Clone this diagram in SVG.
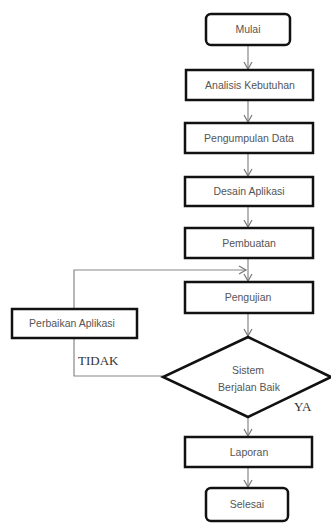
<svg xmlns="http://www.w3.org/2000/svg" width="331" height="523" viewBox="0 0 331 523">
<style>
.box{fill:#fff;stroke:#111;stroke-width:2.5}
.t{font-family:"Liberation Sans",Arial,sans-serif;font-size:10.5px;fill:#555;text-anchor:middle}
.s{font-family:"Liberation Serif","Times New Roman",serif;font-size:13px;fill:#333}
.c{fill:none;stroke:#888;stroke-width:1.2}
</style>
<defs>
<marker id="a" markerWidth="10" markerHeight="10" refX="8" refY="5" orient="auto" markerUnits="userSpaceOnUse">
<path d="M1,1 L8,5 L1,9" fill="none" stroke="#777" stroke-width="1.2"/>
</marker>
</defs>
<rect width="331" height="523" fill="#fff"/>
<g id="connectors">
<line class="c" x1="248" y1="45" x2="248" y2="69" marker-end="url(#a)"/>
<line class="c" x1="248" y1="100" x2="248" y2="122" marker-end="url(#a)"/>
<line class="c" x1="248" y1="153" x2="248" y2="176" marker-end="url(#a)"/>
<line class="c" x1="248" y1="206" x2="248" y2="227" marker-end="url(#a)"/>
<line class="c" x1="248" y1="258" x2="248" y2="281" marker-end="url(#a)"/>
<line class="c" x1="248" y1="313" x2="248" y2="336" marker-end="url(#a)"/>
<line class="c" x1="248" y1="417" x2="248" y2="436" marker-end="url(#a)"/>
<line class="c" x1="248" y1="467" x2="248" y2="487" marker-end="url(#a)"/>
<polyline class="c" points="163,376 74,376 74,339"/>
<polyline class="c" points="74,309 74,270 246,270" marker-end="url(#a)"/>
</g>
<g id="mulai"><rect class="box" x="206" y="14" width="84" height="31" rx="5"/><text class="t" x="248" y="33">Mulai</text></g>
<g id="analisis"><rect class="box" x="186" y="70" width="127" height="30"/><text class="t" x="250" y="89">Analisis Kebutuhan</text></g>
<g id="pengumpulan"><rect class="box" x="185" y="123" width="128" height="30"/><text class="t" x="249" y="142">Pengumpulan Data</text></g>
<g id="desain"><rect class="box" x="185" y="177" width="128" height="29"/><text class="t" x="249" y="195">Desain Aplikasi</text></g>
<g id="pembuatan"><rect class="box" x="185" y="228" width="128" height="30"/><text class="t" x="249" y="247">Pembuatan</text></g>
<g id="pengujian"><rect class="box" x="185" y="282" width="128" height="31"/><text class="t" x="248" y="301">Pengujian</text></g>
<g id="perbaikan"><rect class="box" x="12" y="309" width="125" height="29"/><text class="t" x="72" y="327">Perbaikan Aplikasi</text></g>
<g id="keputusan"><polygon class="box" points="248,337 331,377 248,417 163,377"/><text class="t" x="248" y="374">Sistem</text><text class="t" x="249" y="391">Berjalan Baik</text></g>
<g id="laporan"><rect class="box" x="185" y="437" width="127" height="30"/><text class="t" x="249" y="456">Laporan</text></g>
<g id="selesai"><rect class="box" x="206" y="488" width="82" height="33" rx="5"/><text class="t" x="247" y="508">Selesai</text></g>
<text class="s" x="78" y="365">TIDAK</text>
<text class="s" x="294" y="411">YA</text>
</svg>
